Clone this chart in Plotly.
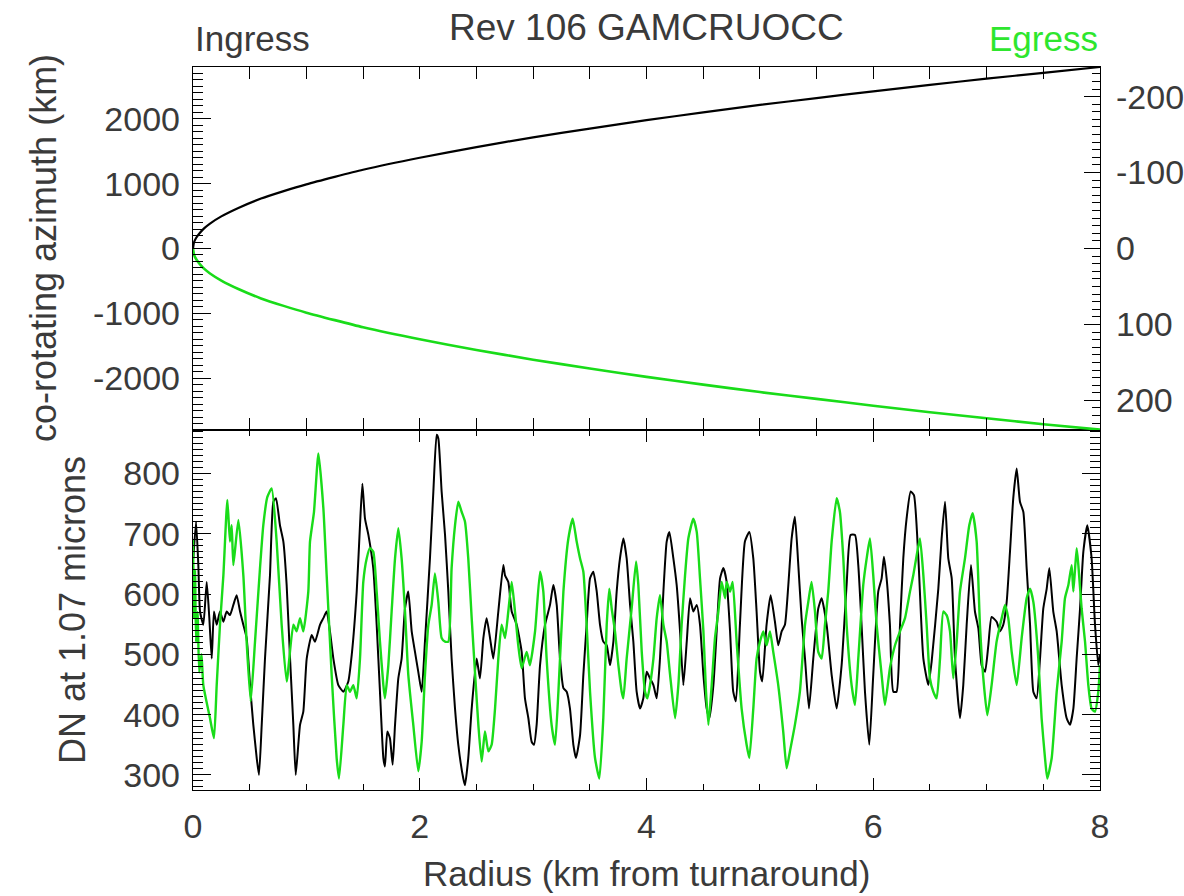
import plotly.graph_objects as go

# ---- upper panel: co-rotating azimuth vs radius ----
radius_track = [0.0, 0.01, 0.03, 0.06, 0.1, 0.15, 0.25, 0.4, 0.6, 0.8, 1.0, 1.25, 1.5,
                2.0, 2.5, 3.0, 3.5, 4.0, 4.5, 5.0, 5.5, 6.0, 6.5, 7.0, 7.5, 8.0]
azimuth_ingress = [0, 100, 170, 240, 315, 385, 495, 625, 770, 885, 990, 1105, 1215,
                   1400, 1565, 1715, 1850, 1980, 2100, 2215, 2320, 2425, 2525, 2620, 2710, 2800]
azimuth_egress = [0, -100, -170, -240, -315, -385, -495, -625, -770, -885, -990, -1105, -1215,
                  -1400, -1565, -1715, -1850, -1980, -2100, -2215, -2320, -2425, -2525, -2620, -2710, -2795]

# ---- lower panel: DN at 1.07 microns ----
ingress_r = [0.003, 0.027, 0.047, 0.062, 0.091, 0.121, 0.144, 0.165, 0.185, 0.209, 0.238, 0.268,
             0.297, 0.326, 0.356, 0.385, 0.415, 0.444, 0.473, 0.503, 0.532, 0.562, 0.582, 0.606,
             0.635, 0.679, 0.709, 0.732, 0.767, 0.797, 0.826, 0.856, 0.885, 0.906, 0.944, 0.973,
             1.003, 1.047, 1.076, 1.120, 1.150, 1.179, 1.208, 1.238, 1.282, 1.326, 1.370, 1.400,
             1.444, 1.473, 1.494, 1.517, 1.547,
             1.590, 1.620, 1.649, 1.679, 1.693, 1.714, 1.737, 1.761, 1.782, 1.811, 1.840, 1.870,
             1.899, 1.929, 1.958, 1.987, 2.017, 2.046, 2.090, 2.120, 2.149, 2.164, 2.193, 2.223,
             2.252, 2.281, 2.311, 2.340, 2.384, 2.399, 2.428, 2.458, 2.502, 2.531, 2.561, 2.590,
             2.620, 2.649, 2.693, 2.737, 2.752, 2.781, 2.811, 2.855, 2.899, 2.928, 2.958, 2.987,
             3.008, 3.031, 3.061, 3.105, 3.149,
             3.178, 3.208, 3.237, 3.267, 3.296, 3.325, 3.355, 3.378, 3.414, 3.443, 3.472, 3.502,
             3.531, 3.561, 3.590, 3.619, 3.649, 3.678, 3.708, 3.737, 3.766, 3.796, 3.825, 3.855,
             3.884, 3.913, 3.943, 3.972, 4.002, 4.031, 4.061, 4.090, 4.119, 4.149, 4.178, 4.202,
             4.237, 4.266, 4.296, 4.325, 4.355, 4.384, 4.413, 4.443, 4.472, 4.502, 4.531, 4.555,
             4.590, 4.619, 4.649, 4.678, 4.707, 4.737,
             4.765, 4.789, 4.824, 4.868, 4.907, 4.942, 4.971, 5.001, 5.021, 5.059, 5.095, 5.133,
             5.162, 5.192, 5.221, 5.251, 5.280, 5.309, 5.339, 5.368, 5.398, 5.433, 5.471, 5.515,
             5.545, 5.589, 5.633, 5.677, 5.721, 5.765, 5.800, 5.839, 5.868, 5.897, 5.927, 5.965,
             6.000, 6.044, 6.074, 6.094, 6.118, 6.147, 6.177, 6.206, 6.236, 6.265, 6.294, 6.330,
             6.359, 6.398, 6.442, 6.486, 6.515, 6.574, 6.603, 6.633, 6.662, 6.692, 6.721, 6.765,
             6.794, 6.824, 6.862, 6.897, 6.927, 6.956, 6.986, 7.015, 7.044, 7.088, 7.118, 7.147,
             7.177, 7.206, 7.235, 7.265, 7.294, 7.324, 7.353, 7.383, 7.412, 7.441, 7.471, 7.500,
             7.530, 7.553, 7.588, 7.618, 7.662, 7.706, 7.735, 7.765, 7.794, 7.824, 7.853, 7.888,
             7.926, 7.956, 7.985, 8.0]
ingress_dn = [659, 720, 648, 571, 549, 620, 560, 493, 571, 549, 571, 554,
              571, 565, 582, 598, 571, 549, 527, 449, 383, 328, 300, 383,
              493, 631, 753, 759, 714, 687, 615, 493, 383, 300, 383, 405,
              493, 532, 521, 549, 560, 571, 538, 493, 449, 438, 455, 499,
              604, 714, 783, 725, 698,
              643, 549, 438, 328, 314, 372, 361, 317, 383, 460, 493, 576,
              604, 538, 504, 471, 438, 521, 659, 770, 864, 858, 770, 698,
              604, 493, 410, 350, 294, 283, 328, 410, 493, 460, 527, 560,
              527, 493, 571, 648, 631, 620, 571, 549, 504, 427, 394, 355,
              350, 383, 482, 549, 582,
              615, 582, 493, 444, 438, 410, 350, 328, 366, 466, 549, 626,
              637, 604, 549, 521, 515, 482, 521, 604, 659, 692, 659, 582,
              521, 438, 410, 427, 471, 460, 449, 427, 493, 604, 687, 703,
              659, 615, 538, 449, 521, 593, 571, 582, 549, 466, 410, 394,
              449, 538, 626, 643, 620, 538,
              438, 422, 549, 687, 703, 659, 571, 471, 455, 549, 598, 554,
              515, 538, 549, 615, 692, 728, 648, 560, 493, 410, 493, 576,
              593, 549, 466, 410, 482, 615, 698, 698, 648, 549, 438, 350,
              466, 604, 626, 662, 626, 549, 438, 438, 549, 659, 725, 770,
              764, 659, 493, 449, 488, 609, 692, 753, 659, 626, 493, 394,
              449, 549, 648, 571, 543, 482, 471, 515, 562, 554, 538, 549,
              587, 670, 759, 808, 753, 736, 643, 549, 438, 427, 493, 576,
              609, 643, 571, 538, 449, 394, 383, 410, 493, 576, 670, 714,
              659, 549, 482, 500]

egress_r = [0.0, 0.010, 0.018, 0.027, 0.040, 0.055, 0.075, 0.091, 0.150, 0.185, 0.209, 0.238,
            0.268, 0.303, 0.326, 0.341, 0.356, 0.400, 0.444, 0.473, 0.509, 0.547, 0.591, 0.620,
            0.656, 0.694, 0.738, 0.782, 0.826, 0.885, 0.914, 0.944, 0.973, 1.017, 1.032, 1.067,
            1.106, 1.150, 1.179, 1.223, 1.267, 1.288, 1.326, 1.356, 1.385, 1.414, 1.444, 1.473,
            1.502, 1.532, 1.561,
            1.590, 1.620, 1.649, 1.679, 1.693, 1.723, 1.752, 1.782, 1.811, 1.840, 1.870, 1.899,
            1.943, 1.987, 2.017, 2.046, 2.076, 2.105, 2.134, 2.164, 2.193, 2.223, 2.252, 2.281,
            2.311, 2.340, 2.370, 2.399, 2.428, 2.458, 2.487, 2.517, 2.546, 2.575, 2.605, 2.634,
            2.664, 2.693, 2.722, 2.752, 2.781, 2.811, 2.840, 2.869, 2.899, 2.943, 2.972, 3.017,
            3.061, 3.090, 3.119, 3.163,
            3.193, 3.223, 3.267, 3.311, 3.349, 3.384, 3.414, 3.443, 3.472, 3.502, 3.546, 3.584,
            3.619, 3.649, 3.672, 3.693, 3.722, 3.752, 3.781, 3.796, 3.825, 3.869, 3.908, 3.928,
            3.958, 3.987, 4.008, 4.031, 4.061, 4.090, 4.119, 4.149, 4.178, 4.208, 4.252, 4.281,
            4.310, 4.340, 4.369, 4.413, 4.443, 4.472, 4.502, 4.525, 4.546, 4.575, 4.604, 4.634,
            4.663, 4.693, 4.707, 4.737,
            4.760, 4.795, 4.839, 4.883, 4.907, 4.942, 4.971, 5.001, 5.030, 5.059, 5.089, 5.118,
            5.162, 5.206, 5.236, 5.265, 5.309, 5.353, 5.398, 5.427, 5.456, 5.486, 5.515, 5.545,
            5.574, 5.603, 5.633, 5.677, 5.706, 5.736, 5.765, 5.809, 5.839, 5.868, 5.912, 5.942,
            5.971, 6.000, 6.030, 6.074, 6.103, 6.147, 6.192, 6.236, 6.280, 6.324,
            6.353, 6.383, 6.412, 6.442, 6.471, 6.500, 6.530, 6.559, 6.589, 6.618, 6.647, 6.677,
            6.706, 6.736, 6.765, 6.809, 6.847, 6.877, 6.912, 6.941, 6.971, 7.006, 7.044, 7.088,
            7.133, 7.162, 7.191, 7.221, 7.265, 7.309, 7.353, 7.383, 7.412, 7.456, 7.485, 7.515,
            7.535, 7.574, 7.618, 7.662, 7.691, 7.721, 7.750, 7.765, 7.794, 7.809, 7.838, 7.868,
            7.897, 7.926, 7.956, 7.985, 8.0]
egress_dn = [690, 560, 640, 520, 570, 470, 500, 449, 394, 361, 449, 549,
             631, 756, 687, 714, 648, 723, 631, 521, 422, 521, 643, 714,
             761, 775, 687, 549, 455, 549, 538, 560, 538, 604, 687, 736,
             833, 742, 631, 466, 328, 294, 383, 449, 438, 449, 427, 493,
             620, 659, 676,
             670, 604, 521, 449, 427, 482, 571, 659, 709, 659, 571, 466,
             383, 306, 355, 466, 549, 582, 634, 587, 527, 521, 521, 643,
             714, 753, 736, 720, 659, 560, 471, 383, 322, 372, 339, 350,
             410, 493, 549, 527, 571, 620, 571, 515, 477, 504, 482, 538,
             637, 604, 493, 383,
             350, 438, 604, 692, 725, 687, 659, 637, 549, 438, 328, 294,
             394, 549, 609, 576, 538, 482, 438, 427, 493, 576, 654, 615,
             504, 438, 427, 449, 493, 560, 598, 549, 521, 466, 394, 449,
             549, 631, 692, 725, 703, 626, 538, 438, 383, 449, 527, 571,
             620, 593, 620, 604,
             620, 521, 410, 350, 328, 410, 493, 521, 538, 515, 538, 504,
             449, 372, 311, 339, 383, 438, 549, 587, 620, 571, 504, 493,
             549, 604, 687, 759, 736, 659, 549, 449, 416, 493, 615, 659,
             692, 631, 549, 466, 416, 477, 515, 538, 560, 604,
             631, 664, 692, 631, 549, 460, 438, 427, 493, 571, 565, 538,
             460, 521, 604, 659, 714, 734, 687, 549, 460, 399, 449, 521,
             560, 582, 560, 504, 449, 527, 593, 609, 587, 493, 394, 328,
             294, 328, 438, 521, 593, 615, 648, 604, 676, 648, 576, 521,
             449, 410, 405, 438, 482]

x_ticks = [0, 2, 4, 6, 8]
azimuth_ticks = [-2000, -1000, 0, 1000, 2000]
angle_ticks = [-200, -100, 0, 100, 200]
dn_ticks = [300, 400, 500, 600, 700, 800]

INK = "#000000"
TEXT = "#3a3a3a"
GREEN = "#19dc19"
FONT = "Liberation Sans, Arial, Helvetica, sans-serif"
FS = 34


def plain_labels(values):
    # ASCII hyphen for negatives
    return [str(v) for v in values]


fig = go.Figure()

fig.add_trace(go.Scatter(x=radius_track, y=azimuth_ingress, xaxis="x2", yaxis="y2",
                         mode="lines", line=dict(color=INK, width=2.2, shape="spline", smoothing=0.6),
                         showlegend=False, hoverinfo="skip"))
fig.add_trace(go.Scatter(x=radius_track, y=azimuth_egress, xaxis="x2", yaxis="y2",
                         mode="lines", line=dict(color=GREEN, width=2.6, shape="spline", smoothing=0.6),
                         showlegend=False, hoverinfo="skip"))
# carrier for the right-hand axis of the upper panel
fig.add_trace(go.Scatter(x=[None], y=[None], xaxis="x2", yaxis="y3", mode="lines",
                         showlegend=False, hoverinfo="skip"))

fig.add_trace(go.Scatter(x=ingress_r, y=ingress_dn, xaxis="x", yaxis="y",
                         mode="lines", line=dict(color=INK, width=2.0, shape="spline", smoothing=0.5),
                         showlegend=False, hoverinfo="skip"))
fig.add_trace(go.Scatter(x=egress_r, y=egress_dn, xaxis="x", yaxis="y",
                         mode="lines", line=dict(color=GREEN, width=2.4, shape="spline", smoothing=0.5),
                         showlegend=False, hoverinfo="skip"))

split = 360 / 723
tickfont = dict(family=FONT, size=FS, color=TEXT)

common_x = dict(range=[0, 8], tickvals=x_ticks, ticks="inside", ticklen=12, tickwidth=1.2,
                tickcolor=INK, showline=True, linecolor=INK, linewidth=1.4, mirror="allticks",
                showgrid=False, zeroline=False, automargin=False,
                minor=dict(dtick=0.5, tick0=0, ticks="inside", ticklen=6, tickcolor=INK, tickwidth=1))

fig.update_layout(
    width=1184, height=896,
    margin=dict(l=193, r=84, t=67, b=106, autoexpand=False),
    paper_bgcolor="white", plot_bgcolor="white",
    font=dict(family=FONT, size=FS, color=TEXT),
    xaxis=dict(**common_x, domain=[0, 1], anchor="y", showticklabels=True,
               tickfont=tickfont, ticklabelstandoff=6),
    xaxis2=dict(**common_x, domain=[0, 1], anchor="y2", matches="x", showticklabels=False),
    yaxis=dict(domain=[0, split], anchor="x", range=[275, 872],
               tickvals=dn_ticks, ticktext=plain_labels(dn_ticks),
               ticks="inside", ticklen=18, tickwidth=1.2, tickcolor=INK,
               showline=True, linecolor=INK, linewidth=1.4, mirror="allticks",
               showgrid=False, zeroline=False, automargin=False,
               tickfont=tickfont, ticklabelstandoff=5,
               minor=dict(dtick=10, tick0=0, ticks="inside", ticklen=10, tickcolor=INK, tickwidth=1)),
    yaxis2=dict(domain=[split, 1], anchor="x2", range=[-2800, 2800],
                tickvals=azimuth_ticks, ticktext=plain_labels(azimuth_ticks),
                ticks="inside", ticklen=18, tickwidth=1.2, tickcolor=INK,
                showline=True, linecolor=INK, linewidth=1.4, mirror=False,
                showgrid=False, zeroline=False, automargin=False,
                tickfont=tickfont, ticklabelstandoff=5,
                minor=dict(dtick=100, tick0=0, ticks="inside", ticklen=10, tickcolor=INK, tickwidth=1)),
    yaxis3=dict(overlaying="y2", side="right", anchor="x2", range=[239, -239],
                tickvals=angle_ticks, ticktext=plain_labels(angle_ticks),
                ticks="inside", ticklen=16, tickwidth=1.2, tickcolor=INK,
                showline=True, linecolor=INK, linewidth=1.4,
                showgrid=False, zeroline=False, automargin=False,
                tickfont=tickfont, ticklabelstandoff=8,
                minor=dict(dtick=10, tick0=0, ticks="inside", ticklen=8, tickcolor=INK, tickwidth=1)),
)

annotations = [
    dict(text="Rev 106 GAMCRUOCC", x=0.5, y=1 + 39 / 723, xref="paper", yref="paper",
         xanchor="center", yanchor="middle", showarrow=False, font=dict(size=37, color=TEXT)),
    dict(text="Ingress", x=0.0, y=1 + 28 / 723, xref="paper", yref="paper",
         xanchor="left", yanchor="middle", showarrow=False, font=dict(size=35, color=TEXT)),
    dict(text="Egress", x=1.0, y=1 + 28 / 723, xref="paper", yref="paper",
         xanchor="right", yanchor="middle", showarrow=False, font=dict(size=35, color="#2ee62e")),
    dict(text="co-rotating azimuth (km)", x=(43 - 193) / 907, y=(790 - 248) / 723,
         xref="paper", yref="paper", xanchor="center", yanchor="middle", textangle=-90,
         showarrow=False, font=dict(size=36, color=TEXT)),
    dict(text="DN at 1.07 microns", x=(72 - 193) / 907, y=(790 - 610) / 723,
         xref="paper", yref="paper", xanchor="center", yanchor="middle", textangle=-90,
         showarrow=False, font=dict(size=36, color=TEXT)),
    dict(text="Radius (km from turnaround)", x=0.5, y=(790 - 873) / 723,
         xref="paper", yref="paper", xanchor="center", yanchor="middle",
         showarrow=False, font=dict(size=35, color=TEXT)),
]
fig.update_layout(annotations=annotations)

fig.write_html("out.html")
